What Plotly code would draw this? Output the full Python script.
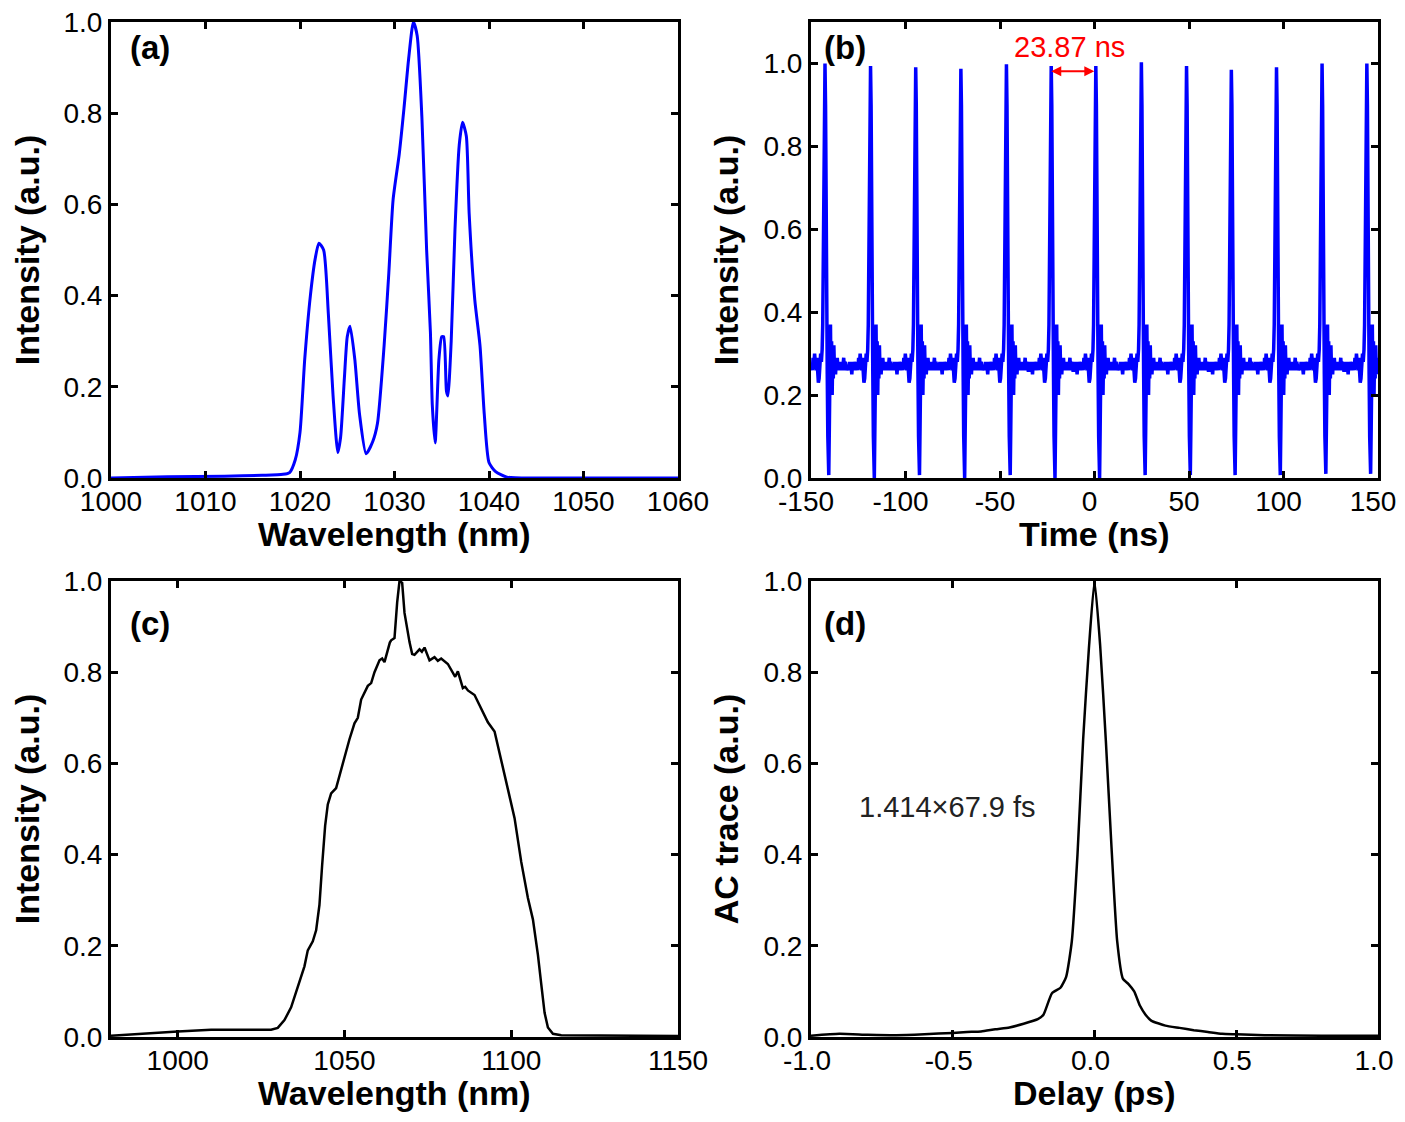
import plotly.graph_objects as go

# (a) narrow spectrum
wl_a = [1000, 1006, 1012, 1016, 1018.2, 1018.9, 1019.5, 1020.0, 1020.5, 1021.1, 1021.6, 1022.0,
        1022.5, 1023.0, 1023.5, 1024.0, 1024.3, 1024.7, 1025.0, 1025.3, 1025.8, 1026.3, 1027.0,
        1027.7, 1028.2, 1028.9, 1029.4, 1029.85, 1030.5, 1031.0, 1031.5, 1032.0, 1032.4, 1032.9,
        1033.4, 1033.8, 1034.0, 1034.3, 1034.7, 1035.0, 1035.2, 1035.5, 1035.65, 1036.0, 1036.4,
        1036.85, 1037.2, 1037.6, 1037.9, 1038.5, 1039.05, 1039.5, 1040.0, 1040.7, 1041.9, 1045, 1060]
int_a = [0.0, 0.003, 0.004, 0.006, 0.008, 0.012, 0.04, 0.10, 0.26, 0.40, 0.48, 0.515,
         0.50, 0.36, 0.18, 0.056, 0.09, 0.22, 0.31, 0.333, 0.26, 0.14, 0.053,
         0.08, 0.12, 0.29, 0.45, 0.61, 0.71, 0.81, 0.92, 1.0, 0.97, 0.79,
         0.50, 0.32, 0.16, 0.077, 0.26, 0.31, 0.31, 0.19, 0.18, 0.30, 0.545,
         0.73, 0.78, 0.75, 0.58, 0.39, 0.29, 0.14, 0.034, 0.014, 0.002, 0.0, 0.0]

# (b) pulse train: one hand-read pulse shape, repeated at the measured pulse times
pulse_dt = [-11.9, -11.5, -11.1, -10.7, -10.3, -9.9, -9.5, -9.1, -8.7, -8.3, -7.9, -7.5, -7.1,
            -6.7, -6.3, -5.9, -5.5, -5.1, -4.7, -4.3, -3.9, -3.5, -3.1, -2.7, -2.3, -1.9, -1.5,
            -1.2, -0.9, -0.6, -0.3, 0.0, 0.3, 0.6, 0.9, 1.2, 1.5, 1.8, 2.0, 2.3, 2.6, 2.9, 3.2,
            3.5, 3.8, 4.1, 4.4, 4.7, 5.0, 5.3, 5.6, 5.9, 6.2, 6.5, 6.8, 7.1, 7.5, 7.9, 8.3, 8.7,
            9.1, 9.5, 9.9, 10.3, 10.7, 11.1, 11.5]
pulse_v = [0.27, 0.26, 0.28, 0.26, 0.27, 0.25, 0.28, 0.26, 0.28, 0.27, 0.26, 0.28, 0.27,
           0.26, 0.29, 0.27, 0.30, 0.28, 0.26, 0.29, 0.25, 0.23, 0.24, 0.27, 0.30, 0.28, 0.31,
           0.37, 0.50, 0.72, 0.95, 1.0, 0.90, 0.55, 0.37, 0.25, 0.10, 0.03, 0.0, 0.12, 0.30,
           0.37, 0.22, 0.33, 0.20, 0.30, 0.24, 0.32, 0.26, 0.29, 0.25, 0.28, 0.26, 0.29, 0.27,
           0.28, 0.26, 0.28, 0.27, 0.26, 0.28, 0.27, 0.29, 0.26, 0.28, 0.27, 0.26]
pulse_t = [-142.6, -118.5, -94.6, -70.7, -46.6, -22.9, 0.7, 24.8, 48.7, 72.4, 96.3, 120.4, 144.1]
pulse_peak = [1.0, 0.994, 0.991, 0.987, 0.998, 0.994, 0.994, 1.003, 0.994, 0.985, 0.991, 1.0, 1.0]
pulse_dip = [0.007, 0.0, 0.007, 0.0, 0.007, 0.0, 0.0, 0.007, 0.007, 0.007, 0.007, 0.01, 0.01]

# (c) broadened spectrum
wl_c = [980, 990, 1000, 1010, 1028, 1030, 1032, 1034, 1036, 1038, 1039, 1040.5, 1041.5, 1042.5,
        1043.3, 1044.2, 1045, 1046, 1047.5, 1048.5, 1050, 1051.5, 1053, 1054, 1055, 1057, 1058, 1059,
        1060.5, 1061.3, 1062, 1063, 1063.6, 1064, 1065, 1065.8, 1066.5, 1067.3, 1068, 1069.5, 1070.3,
        1071, 1072.5, 1073.2, 1074, 1075.5, 1077, 1078, 1079, 1081, 1082.5, 1083.2, 1084, 1085.5,
        1086.2, 1087, 1089, 1091, 1093, 1095, 1097, 1099, 1101, 1103, 1105, 1106.5, 1108, 1109,
        1110, 1111, 1112.5, 1115, 1130, 1150]
int_c = [0.003, 0.008, 0.012, 0.016, 0.016, 0.02, 0.037, 0.065, 0.108, 0.155, 0.19, 0.21, 0.234,
         0.29, 0.376, 0.463, 0.51, 0.534, 0.546, 0.574, 0.617, 0.653, 0.688, 0.70, 0.74, 0.77, 0.776,
         0.80, 0.826, 0.83, 0.822, 0.85, 0.865, 0.87, 0.875, 0.953, 1.0, 0.996, 0.93, 0.866, 0.84,
         0.838, 0.85, 0.845, 0.854, 0.826, 0.833, 0.825, 0.83, 0.818, 0.80, 0.79, 0.802, 0.765,
         0.768, 0.76, 0.75, 0.72, 0.69, 0.67, 0.605, 0.542, 0.48, 0.384, 0.305, 0.258, 0.18, 0.116,
         0.053, 0.021, 0.007, 0.004, 0.003, 0.002]

# (d) autocorrelation
delay_d = [-1.0, -0.9, -0.8, -0.7, -0.6, -0.5, -0.45, -0.4, -0.35, -0.3, -0.25, -0.2, -0.18, -0.15,
           -0.12, -0.1, -0.08, -0.06, -0.04, -0.02, 0.0, 0.02, 0.04, 0.06, 0.08, 0.1, 0.12, 0.14,
           0.16, 0.18, 0.2, 0.25, 0.3, 0.35, 0.4, 0.45, 0.5, 0.6, 0.8, 1.0]
ac_d = [0.003, 0.007, 0.005, 0.004, 0.006, 0.009, 0.011, 0.012, 0.017, 0.021, 0.029, 0.039, 0.049,
        0.096, 0.108, 0.132, 0.21, 0.40, 0.653, 0.85, 1.0, 0.858, 0.65, 0.416, 0.21, 0.128, 0.116,
        0.10, 0.069, 0.049, 0.036, 0.025, 0.02, 0.015, 0.011, 0.007, 0.006, 0.004, 0.003, 0.003]

# tick labels (plain hyphen for negatives, as in the original)
ticks_y = [0.0, 0.2, 0.4, 0.6, 0.8, 1.0]
ticks_y_text = ["0.0", "0.2", "0.4", "0.6", "0.8", "1.0"]
ticks_b = [-150, -100, -50, 0, 50, 100, 150]
ticks_b_text = ["-150", "-100", "-50", "0", "50", "100", "150"]
ticks_d = [-1.0, -0.5, 0.0, 0.5, 1.0]
ticks_d_text = ["-1.0", "-0.5", "0.0", "0.5", "1.0"]

# assemble the pulse train
t_b, v_b = [], []
for i, t0 in enumerate(pulse_t):
    lo = -150 if i == 0 else (pulse_t[i - 1] + t0) / 2
    hi = 150 if i == len(pulse_t) - 1 else (pulse_t[i + 1] + t0) / 2
    for dt, v in zip(pulse_dt, pulse_v):
        t = t0 + dt
        if lo <= t < hi:
            if dt == 0.0:
                v = pulse_peak[i]
            elif dt == 2.0:
                v = pulse_dip[i]
            t_b.append(t)
            v_b.append(v)

FONT = "Liberation Sans, Arial, sans-serif"
BLUE = "#0000ff"

fig = go.Figure()
fig.add_trace(go.Scatter(x=wl_a, y=int_a, mode="lines",
                         line=dict(color=BLUE, width=3, shape="spline", smoothing=0.6),
                         xaxis="x", yaxis="y"))
fig.add_trace(go.Scatter(x=t_b, y=v_b, mode="lines", line=dict(color=BLUE, width=3.5),
                         xaxis="x2", yaxis="y2"))
fig.add_trace(go.Scatter(x=wl_c, y=int_c, mode="lines", line=dict(color="black", width=2.5),
                         xaxis="x3", yaxis="y3"))
fig.add_trace(go.Scatter(x=delay_d, y=ac_d, mode="lines",
                         line=dict(color="black", width=2.5, shape="spline", smoothing=0.5),
                         xaxis="x4", yaxis="y4"))

# the page body adds an 8 px margin; keep the figure inside the window so no scrollbars appear
OFF = 8
W, H = 1405 - 2 * OFF, 1122 - 2 * OFF
left_dom = [(111 - OFF) / W, (678 - OFF) / W]
right_dom = [(811 - OFF) / W, (1378 - OFF) / W]
top_dom = [1 - (478 - OFF) / H, 1 - (22 - OFF) / H]
bot_dom = [1 - (1037 - OFF) / H, 1 - (581 - OFF) / H]

axis_style = dict(showline=True, linewidth=3, linecolor="black", mirror="allticks",
                  ticks="inside", ticklen=7, tickwidth=3, tickcolor="black",
                  showgrid=False, zeroline=False, automargin=False, ticklabeloverflow="allow",
                  tickfont=dict(family=FONT, size=28, color="black"))
title_font = dict(family=FONT, size=34, color="black", weight="bold")


def xax(dom, anchor, rng, **kw):
    return dict(axis_style, domain=dom, anchor=anchor, range=rng, ticklabelstandoff=-4, **kw)


def yax(dom, anchor, rng, title):
    return dict(axis_style, domain=dom, anchor=anchor, range=rng,
                tickvals=ticks_y, ticktext=ticks_y_text,
                title=dict(text=title, standoff=15, font=title_font))


fig.update_layout(
    width=W, height=H,
    margin=dict(l=0, r=0, t=0, b=0),
    paper_bgcolor="white", plot_bgcolor="white",
    showlegend=False,
    xaxis=xax(left_dom, "y", [1000, 1060], dtick=10),
    yaxis=yax(top_dom, "x", [0, 1.0], "Intensity (a.u.)"),
    xaxis2=xax(right_dom, "y2", [-150, 150], tickvals=ticks_b, ticktext=ticks_b_text,
               ticklabelshift=-5),
    yaxis2=yax(top_dom, "x2", [0, 1.1], "Intensity (a.u.)"),
    xaxis3=xax(left_dom, "y3", [980, 1150], dtick=50, tick0=1000),
    yaxis3=yax(bot_dom, "x3", [0, 1.0], "Intensity (a.u.)"),
    xaxis4=xax(right_dom, "y4", [-1, 1], tickvals=ticks_d, ticktext=ticks_d_text,
               ticklabelshift=-4),
    yaxis4=yax(bot_dom, "x4", [0, 1.0], "AC trace (a.u.)"),
)

# x-axis titles, placed a fixed distance under each frame
for txt, xr, yr in [("Wavelength (nm)", "x domain", "y domain"),
                    ("Time (ns)", "x2 domain", "y2 domain"),
                    ("Wavelength (nm)", "x3 domain", "y3 domain"),
                    ("Delay (ps)", "x4 domain", "y4 domain")]:
    fig.add_annotation(text=txt, xref=xr, yref=yr, x=0.5, y=0, yshift=-56, yanchor="middle",
                       showarrow=False, font=title_font)

panel_font = dict(family=FONT, size=33, color="black", weight="bold")
for lbl, xr, yr, px, py in [("(a)", "x domain", "y domain", 0.03, 0.945),
                            ("(b)", "x2 domain", "y2 domain", 0.02, 0.945),
                            ("(c)", "x3 domain", "y3 domain", 0.03, 0.906),
                            ("(d)", "x4 domain", "y4 domain", 0.02, 0.906)]:
    fig.add_annotation(text=lbl, xref=xr, yref=yr, x=px, y=py, xanchor="left", yanchor="middle",
                       showarrow=False, font=panel_font)

# period marker in (b)
fig.add_annotation(x=-22.9, y=0.981, ax=0.7, ay=0.981, xref="x2", yref="y2", axref="x2", ayref="y2",
                   text="", showarrow=True, arrowhead=2, arrowside="end+start", arrowsize=1,
                   arrowwidth=2, arrowcolor="red")
fig.add_annotation(text="23.87 ns", x=-13, y=1.04, xref="x2", yref="y2", showarrow=False,
                   font=dict(family=FONT, size=29, color="red"))

# pulse width label in (d)
fig.add_annotation(text="1.414×67.9 fs", x=-0.52, y=0.504, xref="x4", yref="y4", showarrow=False,
                   font=dict(family=FONT, size=29, color="#222222"))

fig.write_html("out.html")
